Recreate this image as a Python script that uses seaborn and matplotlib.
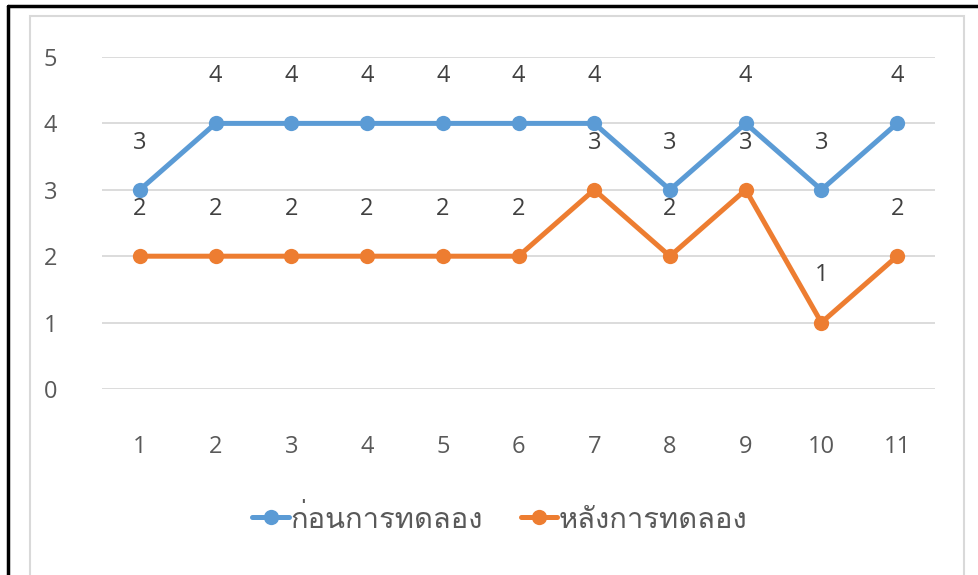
import matplotlib
matplotlib.use("Agg")
import matplotlib.pyplot as plt
import seaborn as sns
import pandas as pd
from matplotlib import font_manager
from matplotlib.ft2font import FT2Font
from matplotlib.patches import Rectangle
from matplotlib.lines import Line2D

# data
sessions = [1, 2, 3, 4, 5, 6, 7, 8, 9, 10, 11]
before = [3, 4, 4, 4, 4, 4, 4, 3, 4, 3, 4]
after = [2, 2, 2, 2, 2, 2, 3, 2, 3, 1, 2]
series_names = ["ก่อนการทดลอง", "หลังการทดลอง"]
colors = ["#5B9BD5", "#ED7D31"]

df = pd.DataFrame({
    "session": sessions * 2,
    "score": before + after,
    "group": [series_names[0]] * len(sessions) + [series_names[1]] * len(sessions),
})

# find an installed family that has Thai glyphs
thai_fams = []
for f in font_manager.fontManager.ttflist:
    try:
        cmap = FT2Font(f.fname).get_charmap()
    except Exception:
        continue
    if 0x0E01 in cmap and 0x0E48 in cmap and f.name not in thai_fams:
        thai_fams.append(f.name)

sns.set_style("white")
plt.rcParams["font.family"] = ["Open Sans"] + thai_fams + ["DejaVu Sans"]

fig = plt.figure(figsize=(9.79, 5.75), dpi=100)
ax = fig.add_axes([102 / 979, 1 - 389 / 575, (935 - 102) / 979, (389 - 57) / 575])

sns.lineplot(data=df, x="session", y="score", hue="group", palette=colors,
             marker="o", markersize=11, markeredgewidth=0, linewidth=3.6,
             ax=ax, legend=False, zorder=3)

# value labels above each point
for vals in [before, after]:
    for x, y in zip(sessions, vals):
        ax.annotate(str(y), (x, y), xytext=(0, 34), textcoords="offset points",
                    ha="center", va="center", fontsize=17, color="#404040")

ax.set_xlim(0.5, 11.5)
ax.set_ylim(0, 5)
ax.set_xticks(sessions)
ax.set_yticks(range(6))
ax.set_xlabel("")
ax.set_ylabel("")
ax.grid(axis="y", color="#D9D9D9", linewidth=1.3)
ax.set_axisbelow(True)
for s in ax.spines.values():
    s.set_visible(False)
ax.tick_params(axis="both", length=0, labelsize=17, labelcolor="#595959")
ax.tick_params(axis="x", pad=33)
ax.tick_params(axis="y", pad=42)
for lab in ax.get_yticklabels():
    lab.set_horizontalalignment("left")

# legend
handles = [Line2D([], [], color=c, linewidth=3.6, marker="o", markersize=11,
                  markeredgewidth=0) for c in colors]
fig.legend(handles, series_names, loc="center", bbox_to_anchor=(500 / 979, 1 - 520 / 575),
           ncol=2, frameon=False, fontsize=21, handlelength=1.25, handletextpad=0.05,
           columnspacing=1.3, labelcolor="#595959")

# chart frame and outer border
fig.patches.append(Rectangle((30 / 979, -0.01), (964 - 30) / 979, 1.01 - 16 / 575,
                             transform=fig.transFigure, fill=False,
                             edgecolor="#D9D9D9", linewidth=1.5))
fig.add_artist(Line2D([8 / 979, 8 / 979], [0, 1 - 6 / 575], transform=fig.transFigure,
                      color="black", linewidth=2.5))
fig.add_artist(Line2D([8 / 979, 1], [1 - 6 / 575, 1 - 6 / 575], transform=fig.transFigure,
                      color="black", linewidth=2.5))

fig.savefig("out.png", dpi=100)
